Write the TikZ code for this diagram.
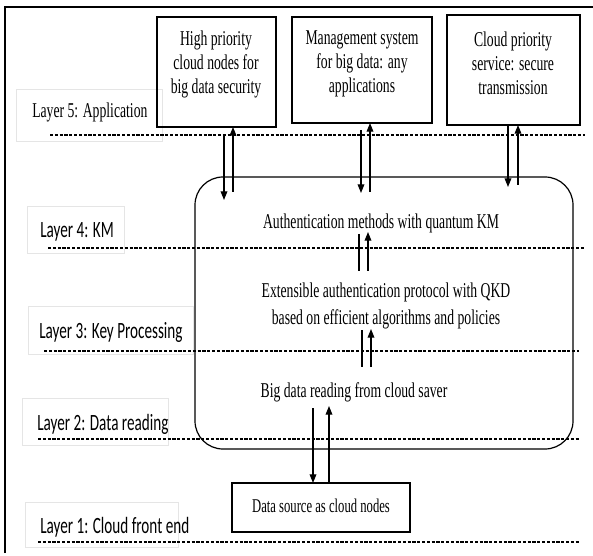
\documentclass[tikz,border=0pt]{standalone}
\usepackage{fontspec}
\setmainfont{Liberation Serif}[FakeStretch=0.65]
\newfontfamily\labelsans{Carlito}[FakeStretch=0.65]
\usetikzlibrary{arrows.meta,fit}
\newcommand{\boxtext}{\fontsize{15.8}{18}\selectfont}
\newcommand{\layertext}{\labelsans\fontsize{17.5}{20}\selectfont}
\begin{document}
\begin{tikzpicture}[x=0.75pt,y=-0.75pt,
  box/.style={draw, line width=1.1pt, inner sep=0pt},
  txt/.style={align=center, font=\boxtext, inner sep=0pt},
  layerbox/.style={draw=black!10, line width=0.6pt},
  layerlabel/.style={anchor=base west, inner sep=0pt},
  layerline/.style={line width=1.1pt, dash pattern=on 2.4pt off 1.2pt},
  flow/.style={line width=0.9pt, -{Triangle[length=6.5pt,width=5pt]}},
  tie/.style={line width=0.9pt}]
\useasboundingbox (0,0) rectangle (593,556);

% outer frame (left and top edges)
\draw[line width=1.4pt] (5,553) -- (5,7) -- (593,7);

% faint boxes behind the layer names
\draw[layerbox] (16,89) rectangle (162,141);
\draw[layerbox] (27,206) rectangle (124,253);
\draw[layerbox] (28,306) rectangle (193,354);
\draw[layerbox] (22,398) rectangle (168,445);
\draw[layerbox] (25,502) rectangle (178,547);

% layer names
\node[layerlabel, font=\boxtext] at (32,118) {Layer 5: Application};
\node[layerlabel, font=\layertext] at (40,238) {Layer 4: KM};
\node[layerlabel, font=\layertext] at (39,338) {Layer 3: Key Processing};
\node[layerlabel, font=\layertext] at (37,430) {Layer 2: Data reading};
\node[layerlabel, font=\layertext] at (40,533) {Layer 1: Cloud front end};

% layer separators
\draw[layerline] (50,135) -- (585,135);
\draw[layerline] (48,248) -- (584,248);
\draw[layerline] (44,351) -- (579,351);
\draw[layerline] (38,439) -- (579,439);
\draw[layerline] (38,542) -- (579,542);

% application boxes
\node[box, fit={(157,17) (276,127)}] (hp) {};
\node[txt] at (216,64) {High priority\\cloud nodes for\\big data security};
\node[box, fit={(292,17) (432,123)}] (ms) {};
\node[txt] at (362,64) {Management system\\for big data: any\\applications};
\node[box, fit={(447,15) (580,125)}] (cp) {};
\node[txt] at (513,63) {Cloud priority\\service: secure\\transmission};

% core processing block
\node[draw, line width=0.9pt, rounded corners=21pt, inner sep=0pt,
      fit={(195,177) (573,449)}] (core) {};
\node[txt] (auth) at (381,223) {Authentication methods with quantum KM};
\node[txt, font=\fontsize{15.8}{20}\selectfont] (eap) at (386,306)
  {Extensible authentication protocol with QKD\\based on efficient algorithms and policies};
\node[txt] (bdr) at (354,392) {Big data reading from cloud saver};

% cloud front end box
\node[box, fit={(232,483) (410,532)}] (ds) {};
\node[txt, font=\fontsize{14.6}{18}\selectfont] at (321,506) {Data source as cloud nodes};

% connector end points
\coordinate (hpD0) at (224,136);  \coordinate (hpD1) at (224,200);
\coordinate (hpU0) at (233,192);  \coordinate (hpU1) at (233,127);
\coordinate (msD0) at (361,130);  \coordinate (msD1) at (361,193);
\coordinate (msU0) at (370,192);  \coordinate (msU1) at (370,123);
\coordinate (cpD0) at (508,125);  \coordinate (cpD1) at (508,187);
\coordinate (cpU0) at (518,185);  \coordinate (cpU1) at (518,125);
\coordinate (aL0) at (359,234);   \coordinate (aL1) at (359,271);
\coordinate (aU0) at (368,271);   \coordinate (aU1) at (368,232);
\coordinate (eL0) at (362,330);   \coordinate (eL1) at (362,367);
\coordinate (eU0) at (371,367);   \coordinate (eU1) at (371,329);
\coordinate (bD0) at (313,408);   \coordinate (bD1) at (313,483);
\coordinate (bU0) at (329,483);   \coordinate (bU1) at (329,406);

% application <-> core
\draw[flow] (hpD0) -- (hpD1);
\draw[flow] (hpU0) -- (hpU1);
\draw[flow] (msD0) -- (msD1);
\draw[flow] (msU0) -- (msU1);
\draw[flow] (cpD0) -- (cpD1);
\draw[flow] (cpU0) -- (cpU1);

% inside the core
\draw[tie]  (aL0) -- (aL1);
\draw[flow] (aU0) -- (aU1);
\draw[tie]  (eL0) -- (eL1);
\draw[flow] (eU0) -- (eU1);

% core <-> data source
\draw[flow] (bD0) -- (bD1);
\draw[flow] (bU0) -- (bU1);
\end{tikzpicture}
\end{document}
